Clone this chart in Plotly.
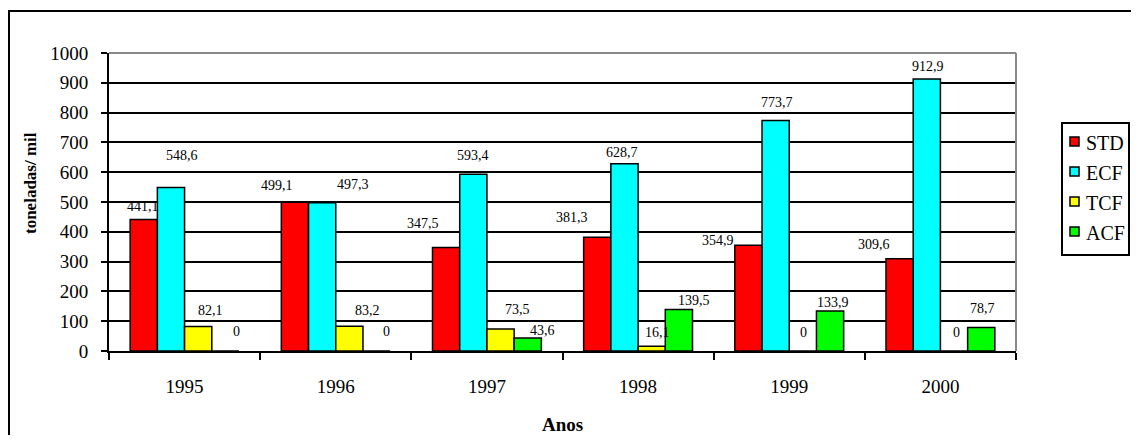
import plotly.graph_objects as go

years = ["1995", "1996", "1997", "1998", "1999", "2000"]
series_names = ["STD", "ECF", "TCF", "ACF"]
std = [441.1, 499.1, 347.5, 381.3, 354.9, 309.6]
ecf = [548.6, 497.3, 593.4, 628.7, 773.7, 912.9]
tcf = [82.1, 83.2, 73.5, 16.1, 0, 0]
acf = [0, 0, 43.6, 139.5, 133.9, 78.7]
values = [std, ecf, tcf, acf]
colors = ["#FF0000", "#00FFFF", "#FFFF00", "#00FF00"]

# label nudges (px) relative to bar top centre, as placed in the original
label_dx = [
    [-1, -18, -23, -25, -30, -26],
    [11, 31, 0, -2, 1, 1],
    [12, 18, 17, 6, 1, 2],
    [11, 10, 15, 15, 3, 1],
]
label_dy = [
    [13, 17, 24, 20, 5, 14],
    [32, 18, 19, 11, 18, 12],
    [16, 16, 20, 14, 19, 19],
    [20, 20, 8, 9, 9, 19],
]

# page has an 8px body margin; figure sized so the page does not scroll
OX, OY = 8, 8
W, H = 1139 - OX, 443 - 2 * OY
ML, MT = 109 - OX, 53 - OY
MR = W - (1016 - OX)
MB = H - (351 - OY)
plot_w = W - ML - MR
ph = H - MT - MB
bargap = 0.28
bar_px = plot_w / len(years) * (1 - bargap) / 4

FONT = "Liberation Serif, Times New Roman, serif"


def px_x(px):
    """page pixel x -> paper coordinate"""
    return (px - OX - ML) / plot_w


def px_y(py):
    """page pixel y -> paper coordinate"""
    return (H - MB - (py - OY)) / ph


fig = go.Figure()
for i, (name, vals, col) in enumerate(zip(series_names, values, colors)):
    fig.add_trace(go.Bar(
        x=years, y=vals, name=name, showlegend=False,
        marker=dict(color=col, line=dict(color="black", width=1.5)),
    ))

annotations = []
for i, vals in enumerate(values):
    for j, v in enumerate(vals):
        annotations.append(dict(
            x=j, y=v, xref="x", yref="y",
            text=f"{v:.1f}".replace(".", ",") if v != 0 else "0",
            showarrow=False, xanchor="center", yanchor="middle",
            xshift=(i - 1.5) * bar_px + label_dx[i][j],
            yshift=label_dy[i][j],
            font=dict(family=FONT, size=14, color="black"),
        ))

annotations.append(dict(
    x=px_x(30), y=px_y(183), xref="paper", yref="paper",
    text="<b>toneladas/ mil</b>", textangle=-90, showarrow=False,
    xanchor="center", yanchor="middle",
    font=dict(family=FONT, size=17, color="black"),
))
annotations.append(dict(
    x=0.5, y=px_y(424), xref="paper", yref="paper",
    text="<b>Anos</b>", showarrow=False, xanchor="center", yanchor="middle",
    font=dict(family=FONT, size=19, color="black"),
))

shapes = [
    # outer chart border
    dict(type="rect", xref="paper", yref="paper",
         x0=px_x(9), x1=px_x(1145), y0=px_y(450), y1=px_y(11),
         line=dict(color="black", width=2), fillcolor="rgba(0,0,0,0)", layer="below"),
    # grey plot-area border top and right
    dict(type="line", xref="paper", yref="paper", x0=0, x1=1, y0=1, y1=1,
         line=dict(color="#888888", width=2), layer="above"),
    dict(type="line", xref="paper", yref="paper", x0=1, x1=1, y0=0, y1=1,
         line=dict(color="#888888", width=2), layer="above"),
    # legend box
    dict(type="rect", xref="paper", yref="paper",
         x0=px_x(1062), x1=px_x(1129), y0=px_y(255), y1=px_y(123),
         line=dict(color="black", width=2), fillcolor="white", layer="above"),
]

# legend entries
for k, (name, col) in enumerate(zip(series_names, colors)):
    cy = 142 + 30 * k
    shapes.append(dict(
        type="rect", xref="paper", yref="paper",
        x0=px_x(1070), x1=px_x(1079), y0=px_y(cy + 4), y1=px_y(cy - 5),
        line=dict(color="black", width=1.5), fillcolor=col, layer="above"))
    annotations.append(dict(
        x=px_x(1084), y=px_y(cy + 1), xref="paper", yref="paper",
        text=name, showarrow=False, xanchor="left", yanchor="middle",
        font=dict(family=FONT, size=20, color="black"),
    ))

fig.update_layout(
    width=W, height=H,
    margin=dict(l=ML, r=MR, t=MT, b=MB, pad=0, autoexpand=False),
    paper_bgcolor="white", plot_bgcolor="white",
    barmode="group", bargap=bargap, bargroupgap=0,
    font=dict(family=FONT, size=19, color="black"),
    showlegend=False,
    xaxis=dict(
        type="category", range=[-0.5, len(years) - 0.5], autorange=False, automargin=False,
        showline=True, linecolor="black", linewidth=2,
        ticks="outside", tickson="boundaries", ticklen=7, tickwidth=2, tickcolor="black",
        ticklabelstandoff=17,
        showgrid=False, tickangle=0, tickfont=dict(family=FONT, size=19, color="black"),
    ),
    yaxis=dict(
        range=[0, 1000], autorange=False, automargin=False, dtick=100, tick0=0,
        showline=True, linecolor="black", linewidth=2,
        ticks="outside", ticklen=6, tickwidth=2, tickcolor="black",
        ticklabelstandoff=9,
        showgrid=True, gridcolor="black", gridwidth=1.5, zeroline=False,
        tickfont=dict(family=FONT, size=19, color="black"),
    ),
    annotations=annotations, shapes=shapes,
)

fig.write_html("out.html")
